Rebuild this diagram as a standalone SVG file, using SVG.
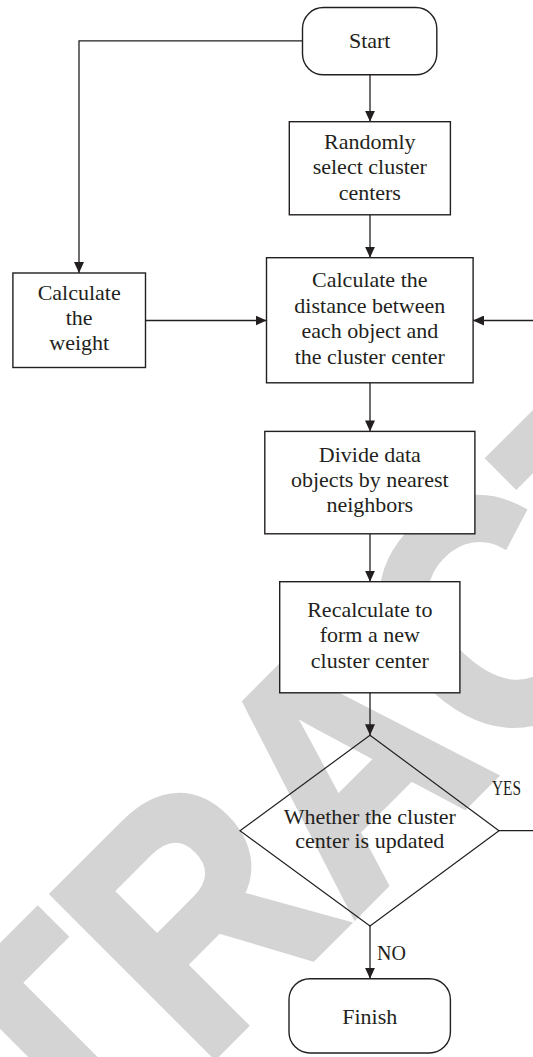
<svg xmlns="http://www.w3.org/2000/svg" width="533" height="1057" viewBox="0 0 533 1057">
<defs>
<style>
.wm{font-family:"Liberation Sans",Arial,sans-serif;font-weight:bold;font-size:292px;fill:#d4d4d4;stroke:#d4d4d4;stroke-width:7;stroke-linejoin:miter;font-kerning:none}
.box{fill:#ffffff;stroke:#231f20;stroke-width:1.4}
.dia{fill:none;stroke:#231f20;stroke-width:1.2}
.t{font-family:"Liberation Serif","Times New Roman",serif;font-size:22px;fill:#231f20;text-anchor:middle}
.lbl{font-family:"Liberation Serif","Times New Roman",serif;font-size:20px;fill:#231f20}
.con{fill:none;stroke:#231f20;stroke-width:1.3}
</style>
<marker id="ah" markerUnits="userSpaceOnUse" markerWidth="11" markerHeight="10" refX="11" refY="5" orient="auto">
<path d="M0,0 L11,5 L0,10 Z" fill="#231f20"/>
</marker>
</defs>
<rect width="533" height="1057" fill="#ffffff"/>
<g id="watermark">
<text class="wm" x="0" y="0" text-anchor="middle" transform="translate(424.7,845.4) rotate(-45) scale(1,1.132)">RETRACTED</text>
</g>
<g id="connectors">
<line class="con" x1="370" y1="75" x2="370" y2="121.7" marker-end="url(#ah)"/>
<path class="con" d="M302.5,40.8 H79 V273" marker-end="url(#ah)"/>
<line class="con" x1="370" y1="214.8" x2="370" y2="257.7" marker-end="url(#ah)"/>
<line class="con" x1="145.5" y1="320.5" x2="266.5" y2="320.5" marker-end="url(#ah)"/>
<path class="con" d="M499,830.7 H545 V320.5 H473" marker-end="url(#ah)"/>
<line class="con" x1="370" y1="382.8" x2="370" y2="431.4" marker-end="url(#ah)"/>
<line class="con" x1="370" y1="533.8" x2="370" y2="581.7" marker-end="url(#ah)"/>
<line class="con" x1="370" y1="692.8" x2="370" y2="735.3" marker-end="url(#ah)"/>
<line class="con" x1="370" y1="926" x2="370" y2="978.7" marker-end="url(#ah)"/>
<text class="lbl" x="492" y="795" textLength="29" lengthAdjust="spacingAndGlyphs">YES</text>
<text class="lbl" x="377" y="960">NO</text>
</g>
<g id="start">
<rect class="box" x="302.5" y="7.5" width="134.3" height="67.3" rx="21" ry="21"/>
<text class="t" x="369.7" y="47.6">Start</text>
</g>
<g id="random">
<rect class="box" x="289.3" y="121.7" width="161.1" height="93.1"/>
<text class="t" x="369.8" y="148.5">Randomly</text>
<text class="t" x="369.8" y="174">select cluster</text>
<text class="t" x="369.8" y="199.5">centers</text>
</g>
<g id="weight">
<rect class="box" x="12.9" y="273" width="132.6" height="94.5"/>
<text class="t" x="79.2" y="300">Calculate</text>
<text class="t" x="79.2" y="325">the</text>
<text class="t" x="79.2" y="350">weight</text>
</g>
<g id="distance">
<rect class="box" x="266.5" y="257.7" width="206.6" height="125.1"/>
<text class="t" x="369.8" y="287">Calculate the</text>
<text class="t" x="369.8" y="312.5">distance between</text>
<text class="t" x="369.8" y="338">each object and</text>
<text class="t" x="369.8" y="363.5">the cluster center</text>
</g>
<g id="divide">
<rect class="box" x="264.8" y="431.4" width="210.1" height="102.4"/>
<text class="t" x="369.8" y="462">Divide data</text>
<text class="t" x="369.8" y="487">objects by nearest</text>
<text class="t" x="369.8" y="512">neighbors</text>
</g>
<g id="recalc">
<rect class="box" x="279.7" y="581.7" width="180.2" height="111.1"/>
<text class="t" x="369.8" y="616.5">Recalculate to</text>
<text class="t" x="369.8" y="642">form a new</text>
<text class="t" x="369.8" y="667.5">cluster center</text>
</g>
<g id="decision">
<polygon class="dia" points="370,735.3 499,830.7 370,926 240,830.7"/>
<text class="t" x="369.8" y="824">Whether the cluster</text>
<text class="t" x="369.8" y="848">center is updated</text>
</g>
<g id="finish">
<rect class="box" x="289" y="978.7" width="161.4" height="74.3" rx="21" ry="21"/>
<text class="t" x="369.7" y="1024">Finish</text>
</g>
</svg>
